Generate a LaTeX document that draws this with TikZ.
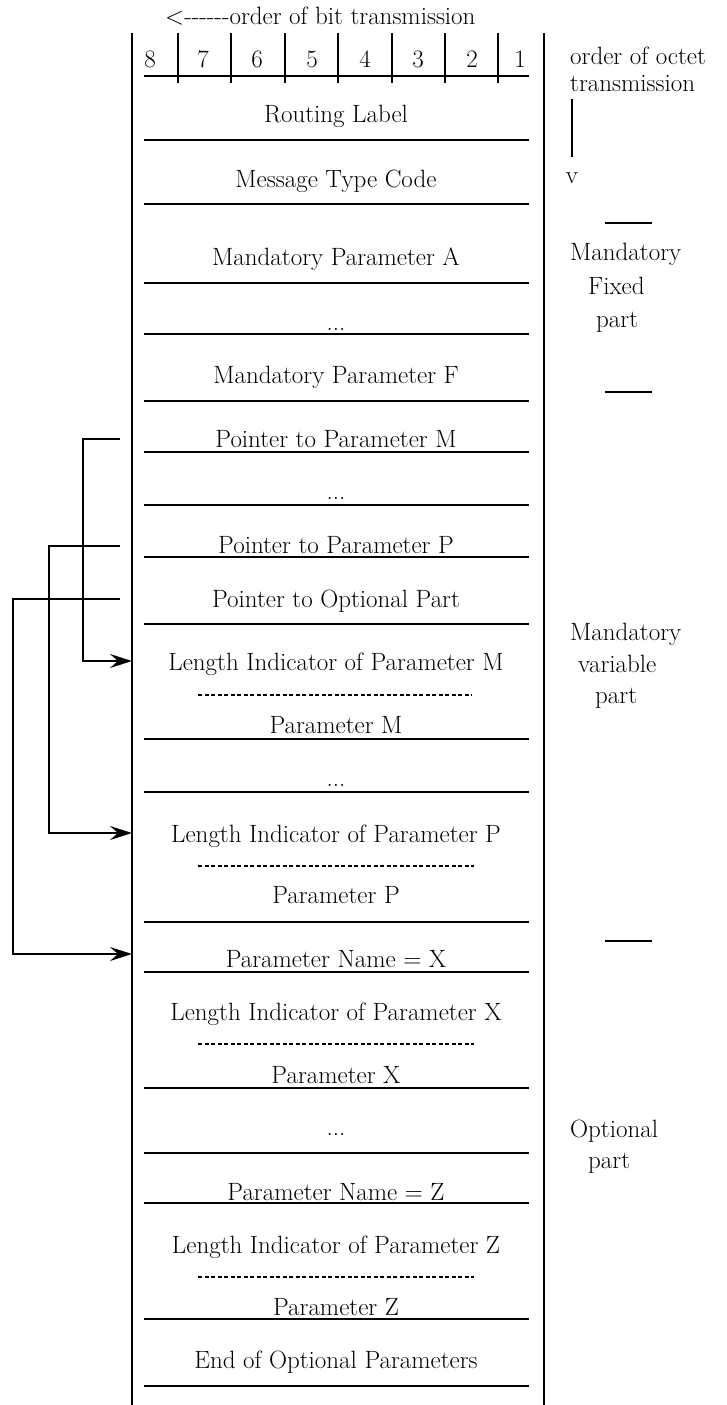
\documentclass[tikz,border=0pt]{standalone}
\usetikzlibrary{arrows.meta}
\newcommand{\BodyFont}{\fontsize{25}{30}\selectfont}
\newcommand{\Hyph}{\mbox{-}}

\begin{document}
\begin{tikzpicture}[
	% Define styles and settings
	x=1pt, y=-1pt,
	field/.style={anchor=base, font=\BodyFont, inner sep=0pt},
	side/.style={anchor=base west, font=\BodyFont, inner sep=0pt},
	rowline/.style={line width=2.2pt},
	border/.style={line width=1.2pt},
	lenline/.style={line width=2pt, dash pattern=on 4pt off 2.5pt},
	pointer/.style={line width=2pt, -{Stealth[length=22pt,width=14pt,inset=8pt]}}
	]
	\useasboundingbox (0,0) rectangle (726,1405);

	% title and bit numbers
	\draw (165,25) node[side] (BitOrder) {<\Hyph\Hyph\Hyph\Hyph\Hyph\Hyph order of bit transmission};
	\draw (150,67) node[field] (Bit8) {8};
	\draw (203,67) node[field] (Bit7) {7};
	\draw (257,67) node[field] (Bit6) {6};
	\draw (312,67) node[field] (Bit5) {5};
	\draw (365,67) node[field] (Bit4) {4};
	\draw (418,67) node[field] (Bit3) {3};
	\draw (472,67) node[field] (Bit2) {2};
	\draw (520,67) node[field] (Bit1) {1};
	\draw[border] (178,33) -- (178,83) (231,33) -- (231,83) (285,33) -- (285,83) (338,33) -- (338,83)
		(392,33) -- (392,83) (445,33) -- (445,83) (498,33) -- (498,83);

	% frame
	\draw[border] (132,33) -- (132,1405);
	\draw[border] (544,33) -- (544,1405);

	% octet separators
	\draw[rowline] (144,76) -- (529,76) (144,140) -- (529,140) (144,204) -- (529,204)
		(144,283) -- (529,283) (144,334) -- (529,334) (144,401) -- (529,401)
		(144,452) -- (529,452) (144,505) -- (529,505) (144,557) -- (529,557)
		(144,624) -- (529,624) (144,739) -- (529,739) (144,792) -- (529,792)
		(144,922) -- (529,922) (144,972) -- (529,972) (144,1088) -- (529,1088)
		(144,1153) -- (529,1153) (144,1203) -- (529,1203) (144,1319) -- (529,1319)
		(144,1386) -- (529,1386);
	\draw[lenline] (198,695) -- (472,695);
	\draw[lenline] (198,866) -- (474,866);
	\draw[lenline] (198,1044) -- (474,1044);
	\draw[lenline] (198,1277) -- (474,1277);

	% fields
	\draw (336,122) node[field] (Routing) {Routing Label};
	\draw (336,187) node[field] (MsgType) {Message Type Code};
	\draw (336,265) node[field] (MandA) {Mandatory Parameter A};
	\draw (336,330) node[field] (MandDots) {...};
	\draw (336,383) node[field] (MandF) {Mandatory Parameter F};
	\draw (336,447) node[field] (PtrM) {Pointer to Parameter M};
	\draw (336,499) node[field] (PtrDots) {...};
	\draw (336,553) node[field] (PtrP) {Pointer to Parameter P};
	\draw (336,607) node[field] (PtrOpt) {Pointer to Optional Part};
	\draw (336,670) node[field] (LenM) {Length Indicator of Parameter M};
	\draw (336,733) node[field] (ParM) {Parameter M};
	\draw (336,786) node[field] (VarDots) {...};
	\draw (336,842) node[field] (LenP) {Length Indicator of Parameter P};
	\draw (336,903) node[field] (ParP) {Parameter P};
	\draw (336,967) node[field] (NameX) {Parameter Name = X};
	\draw (336,1020) node[field] (LenX) {Length Indicator of Parameter X};
	\draw (336,1083) node[field] (ParX) {Parameter X};
	\draw (336,1135) node[field] (OptDots) {...};
	\draw (336,1200) node[field] (NameZ) {Parameter Name = Z};
	\draw (336,1253) node[field] (LenZ) {Length Indicator of Parameter Z};
	\draw (336,1315) node[field] (ParZ) {Parameter Z};
	\draw (336,1368) node[field] (EndOpt) {End of Optional Parameters};

	% pointers
	\coordinate (SrcM) at (120,439);
	\coordinate (SrcP) at (120,546);
	\coordinate (SrcOpt) at (120,599);
	\coordinate (DstM) at (132,661);
	\coordinate (DstP) at (132,833);
	\coordinate (DstOpt) at (132,954);
	\draw[pointer] (SrcM) -- ++(-37,0) |- (DstM);
	\draw[pointer] (SrcP) -- ++(-71,0) |- (DstP);
	\draw[pointer] (SrcOpt) -- ++(-107,0) |- (DstOpt);

	% right hand notes
	\draw (570,64) node[side] (OctetOrder) {order of octet};
	\draw (570,91) node[side] (OctetOrder2) {transmission};
	\draw[border] (572,99) -- (572,157);
	\draw (572,183) node[field] (OctetDown) {v};
	\draw[rowline] (605,223) -- (652,223);
	\draw (570,260) node[side] (Fixed1) {Mandatory};
	\draw (588,294) node[side] (Fixed2) {Fixed};
	\draw (596,327) node[side] (Fixed3) {part};
	\draw[rowline] (605,392) -- (652,392);
	\draw (570,640) node[side] (Var1) {Mandatory};
	\draw (578,672) node[side] (Var2) {variable};
	\draw (595,703) node[side] (Var3) {part};
	\draw[rowline] (605,941) -- (652,941);
	\draw (570,1137) node[side] (Opt1) {Optional};
	\draw (588,1168) node[side] (Opt2) {part};

\end{tikzpicture}
\end{document}
